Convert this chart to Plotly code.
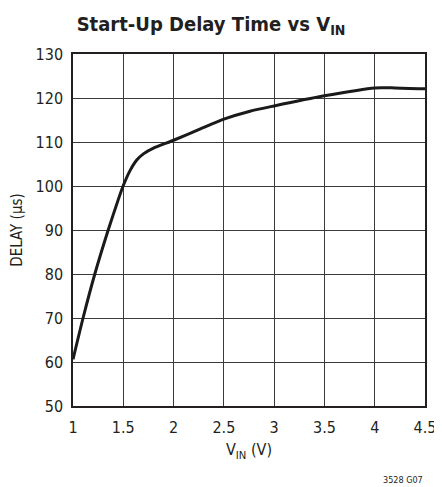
import plotly.graph_objects as go

vin = [1.0, 1.1, 1.217, 1.35, 1.45, 1.5, 1.567, 1.634, 1.70, 1.80, 2.0, 2.267, 2.5, 2.76, 3.0, 3.5, 4.0, 4.2, 4.5]
delay = [60.6, 70.0, 80.0, 90.0, 96.9, 100.1, 103.5, 105.9, 107.3, 108.6, 110.4, 113.0, 115.2, 117.0, 118.2, 120.5, 122.3, 122.3, 122.1]

x_ticks = [1, 1.5, 2, 2.5, 3, 3.5, 4, 4.5]
x_tick_labels = ["1", "1.5", "2", "2.5", "3", "3.5", "4", "4.5"]
y_ticks = [50, 60, 70, 80, 90, 100, 110, 120, 130]

FONT = "DejaVu Sans Condensed, Liberation Sans Narrow, Arial Narrow, sans-serif"

fig = go.Figure()
fig.add_trace(go.Scatter(
    x=vin, y=delay, mode="lines",
    line=dict(color="#1a1a1a", width=3, shape="spline", smoothing=0.6),
    showlegend=False, hoverinfo="skip",
))

# page body has an 8px default margin, so the figure is sized/offset to compensate
fig.update_layout(
    width=434, height=479,
    margin=dict(l=65, r=17, t=46, b=81, autoexpand=False),
    paper_bgcolor="white", plot_bgcolor="white",
    font=dict(family=FONT, color="#231f20", size=16),
    title=dict(
        text="<b>Start-Up Delay Time vs V<sub>IN</sub></b>",
        x=(211 - 8) / 434, xanchor="center", y=1 - (24 - 8) / 479, yanchor="middle",
        font=dict(family=FONT, size=20, color="#231f20"),
    ),
)
fig.update_xaxes(
    range=[1, 4.5], tickvals=x_ticks, ticktext=x_tick_labels,
    showgrid=True, gridcolor="#3a3a3a", gridwidth=1,
    showline=True, linecolor="#231f20", linewidth=1.5, mirror=True,
    ticks="", zeroline=False, ticklabelstandoff=6, automargin=False,
    title=dict(text="V<sub>IN</sub> (V)", font=dict(family=FONT, size=16), standoff=8),
    tickfont=dict(family=FONT, size=16),
)
fig.update_yaxes(
    range=[50, 130], tickvals=y_ticks,
    showgrid=True, gridcolor="#3a3a3a", gridwidth=1,
    showline=True, linecolor="#231f20", linewidth=1.5, mirror=True,
    ticks="", zeroline=False, ticklabelstandoff=5, automargin=False,
    title=dict(text="DELAY (µs)", font=dict(family=FONT, size=15), standoff=11),
    tickfont=dict(family=FONT, size=16),
)
fig.add_annotation(
    text="3528 G07", xref="paper", yref="paper", x=1.0, y=-0.21,
    xanchor="right", yanchor="middle", showarrow=False,
    font=dict(family=FONT, size=9, color="#231f20"),
)
fig.write_html("out.html")
